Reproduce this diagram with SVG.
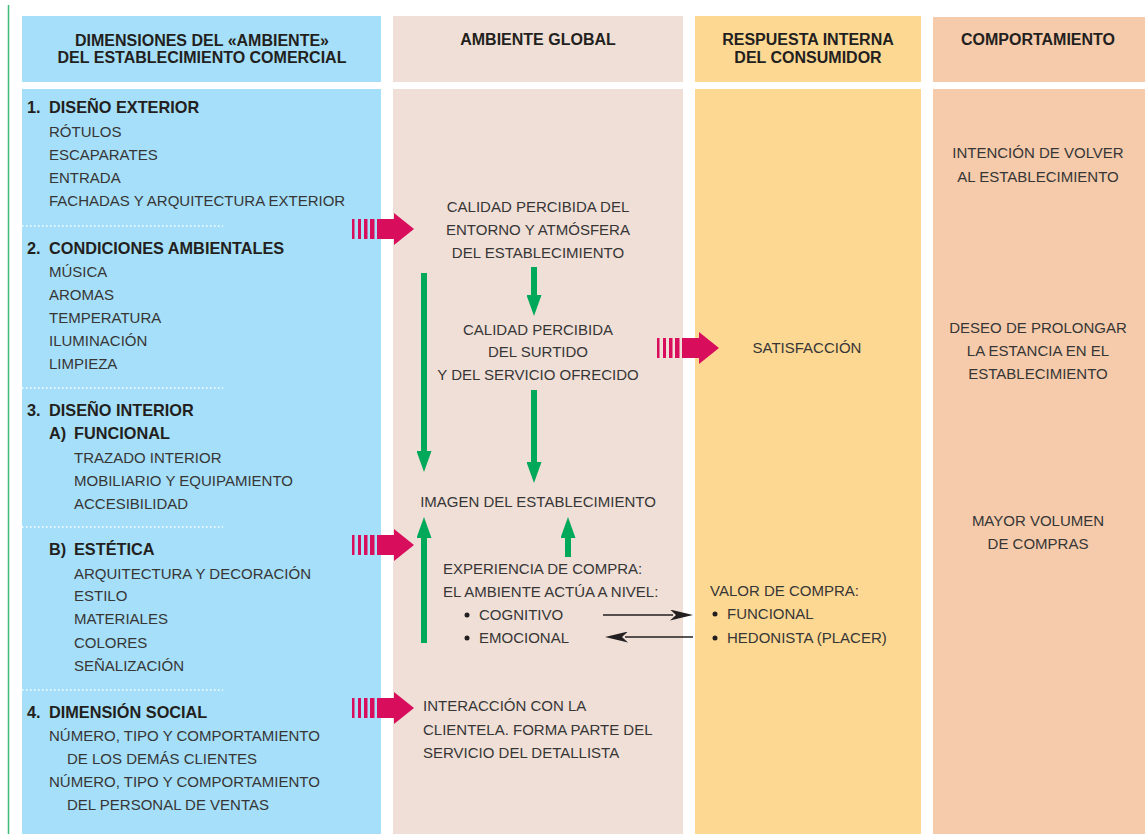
<svg xmlns="http://www.w3.org/2000/svg" xmlns:xlink="http://www.w3.org/1999/xlink" width="1145" height="834" viewBox="0 0 1145 834">
<style>
text{font-family:"Liberation Sans",Arial,sans-serif;}
.h{font-size:16px;font-weight:bold;fill:#231f20;}
.b{font-size:16.3px;font-weight:bold;fill:#231f20;}
.t{font-size:15px;fill:#363636;}
.c{text-anchor:middle;}
.dot{stroke:#ffffff;stroke-width:1.5;stroke-dasharray:1.5 2.5;}
.g{stroke:#00a85a;stroke-width:6;fill:none;}
.k{stroke:#231f20;stroke-width:1.5;fill:none;}
</style>
<defs>
<marker id="gh" markerUnits="userSpaceOnUse" markerWidth="21" markerHeight="15" refX="0" refY="7.5" orient="auto" viewBox="0 0 21 15">
<path d="M0,0 L21,7.5 L0,15 z" fill="#00a85a"/>
</marker>
<marker id="kh" markerUnits="userSpaceOnUse" markerWidth="23" markerHeight="11" refX="3" refY="5.5" orient="auto" viewBox="0 0 23 11">
<path d="M0,0 L23,5.5 L0,11 L6,5.5 z" fill="#231f20"/>
</marker>
<g id="pa">
<rect x="0" y="-10" width="2.5" height="20" fill="#d80e5c"/>
<rect x="6" y="-10" width="3" height="20" fill="#d80e5c"/>
<rect x="12" y="-10" width="3.5" height="20" fill="#d80e5c"/>
<rect x="18" y="-10" width="4.5" height="20" fill="#d80e5c"/>
<path d="M25,-10 H42 V-16 L62,0 L42,16 V10 H25 z" fill="#d80e5c"/>
</g>
</defs>
<rect width="1145" height="834" fill="#ffffff"/>
<line x1="8.5" y1="5" x2="8.5" y2="834" stroke="#3dbb7a" stroke-width="1.5"/>

<g id="col1">
<rect x="22" y="16" width="359" height="66" fill="#a6dff9"/>
<rect x="22" y="89" width="359" height="745" fill="#a6dff9"/>
<text class="h c" x="202" y="46">DIMENSIONES DEL «AMBIENTE»</text>
<text class="h c" x="202" y="63">DEL ESTABLECIMIENTO COMERCIAL</text>
<text class="b" x="27" y="113">1.</text><text class="b" x="49" y="113">DISEÑO EXTERIOR</text>
<text class="t" x="49" y="137">RÓTULOS</text>
<text class="t" x="49" y="160">ESCAPARATES</text>
<text class="t" x="49" y="183">ENTRADA</text>
<text class="t" x="49" y="206">FACHADAS Y ARQUITECTURA EXTERIOR</text>
<line class="dot" x1="22" y1="226" x2="223" y2="226"/>
<text class="b" x="27" y="254">2.</text><text class="b" x="49" y="254">CONDICIONES AMBIENTALES</text>
<text class="t" x="49" y="277">MÚSICA</text>
<text class="t" x="49" y="300">AROMAS</text>
<text class="t" x="49" y="323">TEMPERATURA</text>
<text class="t" x="49" y="346">ILUMINACIÓN</text>
<text class="t" x="49" y="369">LIMPIEZA</text>
<line class="dot" x1="22" y1="388" x2="223" y2="388"/>
<text class="b" x="27" y="416">3.</text><text class="b" x="49" y="416">DISEÑO INTERIOR</text>
<text class="b" x="49" y="439">A)</text><text class="b" x="74" y="439">FUNCIONAL</text>
<text class="t" x="74" y="463">TRAZADO INTERIOR</text>
<text class="t" x="74" y="486">MOBILIARIO Y EQUIPAMIENTO</text>
<text class="t" x="74" y="509">ACCESIBILIDAD</text>
<line class="dot" x1="22" y1="527" x2="223" y2="527"/>
<text class="b" x="49" y="555">B)</text><text class="b" x="74" y="555">ESTÉTICA</text>
<text class="t" x="74" y="579">ARQUITECTURA Y DECORACIÓN</text>
<text class="t" x="74" y="601">ESTILO</text>
<text class="t" x="74" y="624">MATERIALES</text>
<text class="t" x="74" y="648">COLORES</text>
<text class="t" x="74" y="671">SEÑALIZACIÓN</text>
<line class="dot" x1="22" y1="690" x2="223" y2="690"/>
<text class="b" x="27" y="718">4.</text><text class="b" x="49" y="718">DIMENSIÓN SOCIAL</text>
<text class="t" x="49" y="741">NÚMERO, TIPO Y COMPORTAMIENTO</text>
<text class="t" x="67" y="764">DE LOS DEMÁS CLIENTES</text>
<text class="t" x="49" y="787">NÚMERO, TIPO Y COMPORTAMIENTO</text>
<text class="t" x="67" y="810">DEL PERSONAL DE VENTAS</text>
</g>

<g id="col2">
<rect x="393" y="16" width="290" height="66" fill="#f0dfd6"/>
<rect x="393" y="89" width="290" height="745" fill="#f0dfd6"/>
<text class="h c" x="538" y="45">AMBIENTE GLOBAL</text>
</g>
<g id="col3">
<rect x="695" y="16" width="226" height="66" fill="#fdd893"/>
<rect x="695" y="89" width="226" height="745" fill="#fdd893"/>
<text class="h c" x="808" y="45">RESPUESTA INTERNA</text>
<text class="h c" x="808" y="63">DEL CONSUMIDOR</text>
</g>
<g id="col4">
<rect x="933" y="17" width="212" height="65" fill="#f5cbab"/>
<rect x="933" y="89" width="212" height="745" fill="#f5cbab"/>
<text class="h c" x="1038" y="45">COMPORTAMIENTO</text>
</g>

<g id="n-entorno">
<text class="t c" x="538" y="212">CALIDAD PERCIBIDA DEL</text>
<text class="t c" x="538" y="235">ENTORNO Y ATMÓSFERA</text>
<text class="t c" x="538" y="258">DEL ESTABLECIMIENTO</text>
</g>
<g id="n-surtido">
<text class="t c" x="538" y="335">CALIDAD PERCIBIDA</text>
<text class="t c" x="538" y="357">DEL SURTIDO</text>
<text class="t c" x="538" y="380">Y DEL SERVICIO OFRECIDO</text>
</g>
<g id="n-imagen">
<text class="t c" x="538" y="507">IMAGEN DEL ESTABLECIMIENTO</text>
</g>
<g id="n-experiencia">
<text class="t" x="443" y="574">EXPERIENCIA DE COMPRA:</text>
<text class="t" x="443" y="597">EL AMBIENTE ACTÚA A NIVEL:</text>
<circle cx="467" cy="615" r="2.5" fill="#231f20"/>
<text class="t" x="479" y="620">COGNITIVO</text>
<circle cx="467" cy="638" r="2.5" fill="#231f20"/>
<text class="t" x="479" y="643">EMOCIONAL</text>
</g>
<g id="n-interaccion">
<text class="t" x="423" y="711">INTERACCIÓN CON LA</text>
<text class="t" x="423" y="735">CLIENTELA. FORMA PARTE DEL</text>
<text class="t" x="423" y="758">SERVICIO DEL DETALLISTA</text>
</g>
<g id="n-satisfaccion">
<text class="t c" x="807" y="353">SATISFACCIÓN</text>
</g>
<g id="n-valor">
<text class="t" x="710" y="596">VALOR DE COMPRA:</text>
<circle cx="715" cy="614" r="2.5" fill="#231f20"/>
<text class="t" x="727" y="619">FUNCIONAL</text>
<circle cx="715" cy="638" r="2.5" fill="#231f20"/>
<text class="t" x="727" y="643">HEDONISTA (PLACER)</text>
</g>
<g id="n-volver">
<text class="t c" x="1038" y="158">INTENCIÓN DE VOLVER</text>
<text class="t c" x="1038" y="182">AL ESTABLECIMIENTO</text>
</g>
<g id="n-prolongar">
<text class="t c" x="1038" y="333">DESEO DE PROLONGAR</text>
<text class="t c" x="1038" y="356">LA ESTANCIA EN EL</text>
<text class="t c" x="1038" y="379">ESTABLECIMIENTO</text>
</g>
<g id="n-volumen">
<text class="t c" x="1038" y="526">MAYOR VOLUMEN</text>
<text class="t c" x="1038" y="549">DE COMPRAS</text>
</g>

<g id="connectors">
<use xlink:href="#pa" href="#pa" x="352" y="229"/>
<use xlink:href="#pa" href="#pa" x="352" y="545"/>
<use xlink:href="#pa" href="#pa" x="352" y="708"/>
<use xlink:href="#pa" href="#pa" x="657" y="348"/>
<line class="g" x1="534" y1="267" x2="534" y2="295" marker-end="url(#gh)"/>
<line class="g" x1="424" y1="273" x2="424" y2="451" marker-end="url(#gh)"/>
<line class="g" x1="534" y1="390" x2="534" y2="462" marker-end="url(#gh)"/>
<line class="g" x1="424" y1="643" x2="424" y2="538" marker-end="url(#gh)"/>
<line class="g" x1="568" y1="557" x2="568" y2="538" marker-end="url(#gh)"/>
<line class="k" x1="603" y1="615" x2="673" y2="615" marker-end="url(#kh)"/>
<line class="k" x1="693" y1="637" x2="625" y2="637" marker-end="url(#kh)"/>
</g>
</svg>
